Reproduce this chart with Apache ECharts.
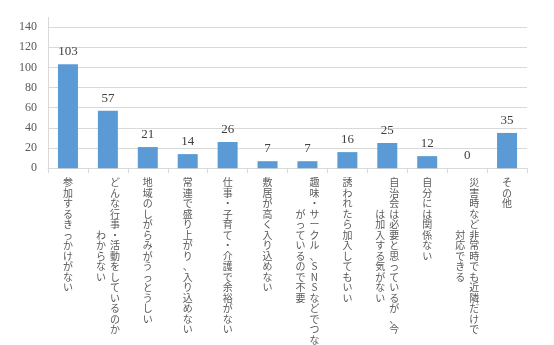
<!DOCTYPE html>
<html>
<head>
<meta charset="utf-8">
<script src="https://cdn.jsdelivr.net/npm/echarts@6/dist/echarts.min.js"></script>
<style>
  html, body { margin: 0; padding: 0; background: #fff; }
  #main { width: 554px; height: 345px; }
</style>
</head>
<body>
<div id="main"></div>
<script>
// カテゴリ（\n の後ろが2列目）
const categories = [
  '参加するきっかけがない',
  'どんな行事・活動をしているのか\nわからない',
  '地域のしがらみがうっとうしい',
  '常連で盛り上がり、入り込めない',
  '仕事・子育て・介護で余裕がない',
  '敷居が高く入り込めない',
  '趣味・サークル、SNSなどでつな\nがっているので不要',
  '誘われたら加入してもいい',
  '自治会は必要と思っているが、今\nは加入する気がない',
  '自分には関係ない',
  '災害時など非常時でも近隣だけで\n対応できる',
  'その他'
]
const values = [103, 57, 21, 14, 26, 7, 7, 16, 25, 12, 0, 35]
const yTicks = [0, 20, 40, 60, 80, 100, 120, 140]

const grey = '#d9d9d9'

// 縦書き風に1文字ずつ積む（2列目は右→左、中央寄せ）
function verticalLabel(text) {
  const cols = text.split('\n').map(s => Array.from(s))
  const c1 = cols[0]
  const c2 = cols[1] || null
  const off = c2 ? Math.floor((c1.length - c2.length) / 2) : 0
  const rows = []
  for (let i = 0; i < c1.length; i++) {
    let row = ''
    if (c2) {
      const ch = c2[i - off] || '　'
      row += '{c|' + ch + '}'
    }
    row += '{c|' + c1[i] + '}'
    rows.push(row)
  }
  return rows.join('\n')
}

const chart = echarts.init(document.getElementById('main'))

chart.setOption({
  animation: false,
  grid: { left: 48, right: 27, top: 27, bottom: 172, containLabel: false },
  xAxis: {
    type: 'category',
    data: categories,
    axisLine: { lineStyle: { color: grey } },
    axisTick: { show: true, length: 5, alignWithLabel: false, lineStyle: { color: grey } },
    axisLabel: {
      interval: 0,
      margin: 9,
      formatter: verticalLabel,
      rich: {
        c: {
          width: 14,
          align: 'center',
          fontSize: 10,
          lineHeight: 10.5,
          color: '#595959',
          fontFamily: 'Noto Sans CJK JP'
        }
      }
    }
  },
  yAxis: {
    type: 'value',
    min: yTicks[0],
    max: yTicks[yTicks.length - 1],
    interval: 20,
    axisLine: { show: true, lineStyle: { color: grey } },
    axisTick: { show: false },
    splitLine: { lineStyle: { color: grey } },
    axisLabel: {
      margin: 11,
      color: '#595959',
      fontSize: 12,
      fontFamily: 'Liberation Serif'
    }
  },
  graphic: [
    {
      type: 'line',
      shape: { x1: 48.5, y1: 17, x2: 48.5, y2: 27 },
      style: { stroke: grey, lineWidth: 1 }
    }
  ],
  series: [
    {
      type: 'bar',
      data: values,
      barWidth: 20,
      itemStyle: { color: '#5b9bd5' },
      label: {
        show: true,
        position: 'top',
        distance: 6,
        color: '#404040',
        fontSize: 13,
        fontFamily: 'Liberation Serif'
      }
    }
  ]
})
</script>
</body>
</html>
